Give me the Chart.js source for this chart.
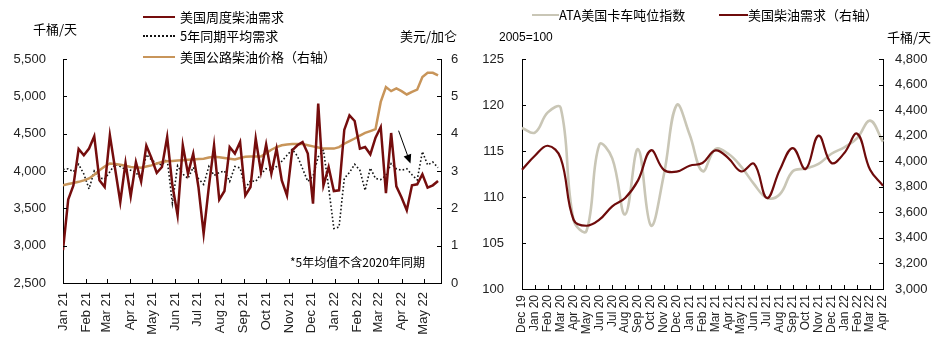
<!DOCTYPE html>
<html><head><meta charset="utf-8">
<script src="https://cdn.jsdelivr.net/npm/chart.js@4.4.1/dist/chart.umd.min.js"></script>
<style>
body{margin:0;background:#fff;width:945px;height:350px;overflow:hidden;position:relative;}
.box{position:absolute;top:0;}
canvas{display:block;}
.t{position:absolute;font-family:"Noto Sans CJK SC","Liberation Sans",sans-serif;font-size:13px;color:#000;white-space:nowrap;line-height:14px;height:14px;}
.n{font-family:"Liberation Sans",Arial,sans-serif;font-size:12px;}
.ln{position:absolute;height:0;}
</style></head>
<body>
<div class="box" style="left:0;width:470px;height:350px"><canvas id="c1" width="470" height="350"></canvas></div>
<div class="box" style="left:470px;width:475px;height:350px"><canvas id="c2" width="475" height="350"></canvas></div>

<!-- left legend & titles -->
<div class="ln" style="left:143px;top:16px;width:32px;border-top:2.5px solid #750d0d"></div>
<div class="t" style="left:180px;top:10px">美国周度柴油需求</div>
<div class="ln" style="left:143px;top:35px;width:32px;border-top:2px dotted #111"></div>
<div class="t" style="left:180px;top:29px">5年同期平均需求</div>
<div class="ln" style="left:143px;top:56px;width:32px;border-top:2.5px solid #c8955a"></div>
<div class="t" style="left:180px;top:50px">美国公路柴油价格（右轴）</div>
<div class="t" style="left:33px;top:22px">千桶/天</div>
<div class="t" style="left:400px;top:29px">美元/加仑</div>
<div class="t" style="left:290px;top:255px;font-size:12px">*5年均值不含2020年同期</div>

<!-- right legend & titles -->
<div class="ln" style="left:532px;top:14px;width:27px;border-top:2.5px solid #c9c6b6"></div>
<div class="t" style="left:559px;top:8px">ATA美国卡车吨位指数</div>
<div class="ln" style="left:719px;top:14px;width:29px;border-top:2.5px solid #6e0b0b"></div>
<div class="t" style="left:748px;top:8px">美国柴油需求（右轴）</div>
<div class="t n" style="left:499px;top:30px">2005=100</div>
<div class="t" style="left:887px;top:30px">千桶/天</div>

<script>
// ---------- Left chart data (weekly, starting 2021-01-01) ----------
const weekStart = '2021-01-01';
const dieselDemandWeekly = [2940,3617,3808,4295,4210,4300,4465,3875,3786,4478,
  4030,3585,4107,3661,4120,3860,4340,4170,3975,4053,
  4455,3808,3407,4344,3965,4233,3786,3161,3786,4344,
  3617,3732,4321,4233,4388,3674,3786,4433,3987,4357,
  3965,4300,3875,3674,4277,4344,4388,4233,3563,4903,
  3808,4053,3732,3741,4550,4746,4670,4300,4321,4223,
  4447,4589,3705,4509,3795,3644,3474,3808,3822,3956,
  3777,3808,3866];
const fiveYearAvg = [4020,4030,3990,4090,3960,3760,4000,3910,3890,3990,
  4090,4060,4020,4010,3980,3890,4220,4150,4100,4080,
  4160,3570,4070,3960,3900,4050,3900,3820,4060,3940,
  3980,4000,3860,4060,4040,3770,3870,3860,3960,4030,
  4010,4060,4130,4210,4290,4200,4030,3860,3930,4190,
  4280,3780,3230,3250,3900,3980,4090,4010,3740,4040,
  3900,3885,3940,4100,4030,4010,4030,3950,3880,4260,
  4080,4120,4045];
const dieselPrice = [2.62,2.65,2.68,2.71,2.75,2.80,2.90,3.02,3.12,3.20,
  3.19,3.17,3.14,3.11,3.10,3.09,3.12,3.15,3.20,3.24,
  3.26,3.27,3.28,3.29,3.30,3.31,3.32,3.33,3.36,3.38,
  3.37,3.35,3.33,3.31,3.35,3.38,3.39,3.39,3.39,3.48,
  3.57,3.64,3.69,3.71,3.72,3.72,3.72,3.69,3.66,3.63,
  3.60,3.60,3.60,3.64,3.73,3.80,3.87,3.95,4.02,4.07,
  4.12,4.85,5.25,5.14,5.21,5.14,5.05,5.12,5.18,5.52,
  5.63,5.63,5.56];
const monthTickLabels = ['Jan 21','Feb 21','Mar 21','Apr 21','May 21','Jun 21','Jul 21','Aug 21','Sep 21','Oct 21','Nov 21','Dec 21','Jan 22','Feb 22','Mar 22','Apr 22','May 22'];
const monthTickDates = ['2021-01-01','2021-02-01','2021-03-01','2021-04-01','2021-05-01','2021-06-01','2021-07-01','2021-08-01','2021-09-01','2021-10-01','2021-11-01','2021-12-01','2022-01-01','2022-02-01','2022-03-01','2022-04-01','2022-05-01'];
const leftYTicks = [2500,3000,3500,4000,4500,5000,5500];
const leftY1Ticks = [0,1,2,3,4,5,6];

// ---------- Right chart data (monthly) ----------
const monthLabels = ['Dec 19','Jan 20','Feb 20','Mar 20','Apr 20','May 20','Jun 20','Jul 20','Aug 20','Sep 20','Oct 20','Nov 20','Dec 20','Jan 21','Feb 21','Mar 21','Apr 21','May 21','Jun 21','Jul 21','Aug 21','Sep 21','Oct 21','Nov 21','Dec 21','Jan 22','Feb 22','Mar 22','Apr 22'];
const ataTonnage = [117.5,117.0,119.2,119.7,107.5,106.3,115.7,114.2,108.1,115.2,
  106.9,112.4,120.0,116.8,112.8,115.2,114.7,113.3,111.4,109.9,
  110.3,112.8,113.1,113.6,114.7,115.4,116.4,118.3,116.0];
const dieselDemandMonthly = [3933,4043,4121,4025,3542,3495,3542,3647,3712,3850,
  4085,3933,3918,3965,3986,4085,4025,3920,3980,3712,
  3933,4103,3939,4200,3986,4064,4215,3933,3808];
const rightYTicks = [100,105,110,115,120,125];
const rightY1Ticks = [3000,3200,3400,3600,3800,4000,4200,4400,4600,4800];

// ---------- helpers ----------
const DAY = 86400000;
const base = Date.parse(weekStart);
const dayOf = s => Math.round((Date.parse(s) - base) / DAY);
const weekDays = dieselDemandWeekly.map((_, i) => i * 7);
const monthDays = monthTickDates.map(dayOf);
const fmt = v => Number(v).toLocaleString('en-US');
const tickFont = {family: '"Liberation Sans", Arial, sans-serif', size: 13};
const smallFont = {family: '"Liberation Sans", Arial, sans-serif', size: 12};
const tickColor = '#222';

const innerTicks = {
  id: 'innerTicks',
  afterDraw(chart) {
    const {ctx, chartArea: a} = chart;
    ctx.save();
    ctx.strokeStyle = '#000';
    ctx.lineWidth = 1;
    Object.values(chart.scales).forEach(s => {
      s.ticks.forEach((t, i) => {
        const p = Math.round(s.getPixelForTick(i)) + 0.5;
        ctx.beginPath();
        if (s.axis === 'x') { ctx.moveTo(p, a.bottom); ctx.lineTo(p, a.bottom - 4); }
        else if (s.position === 'left') { ctx.moveTo(a.left, p); ctx.lineTo(a.left + 4, p); }
        else { ctx.moveTo(a.right, p); ctx.lineTo(a.right - 4, p); }
        ctx.stroke();
      });
    });
    ctx.restore();
  }
};

const arrowNote = {
  id: 'arrowNote',
  afterDatasetsDraw(chart) {
    const {ctx, scales: {x, y}} = chart;
    const x0 = x.getPixelForValue(dayOf('2022-03-28')), y0 = y.getPixelForValue(4540);
    const x1 = x.getPixelForValue(dayOf('2022-04-13')), y1 = y.getPixelForValue(4100);
    const ang = Math.atan2(y1 - y0, x1 - x0);
    ctx.save();
    ctx.strokeStyle = '#000'; ctx.fillStyle = '#000'; ctx.lineWidth = 1;
    ctx.beginPath(); ctx.moveTo(x0, y0); ctx.lineTo(x1 - 6 * Math.cos(ang), y1 - 6 * Math.sin(ang)); ctx.stroke();
    ctx.beginPath();
    ctx.moveTo(x1, y1);
    ctx.lineTo(x1 - 9 * Math.cos(ang) + 4 * Math.sin(ang), y1 - 9 * Math.sin(ang) - 4 * Math.cos(ang));
    ctx.lineTo(x1 - 9 * Math.cos(ang) - 4 * Math.sin(ang), y1 - 9 * Math.sin(ang) + 4 * Math.cos(ang));
    ctx.closePath(); ctx.fill();
    ctx.restore();
  }
};

const axisCommon = (extra) => Object.assign({
  grid: {display: true, drawOnChartArea: false, drawTicks: false},
  border: {display: true, color: '#000', width: 1},
}, extra);

// ---------- Left chart ----------
new Chart(document.getElementById('c1'), {
  type: 'line',
  data: {
    datasets: [
      {label: '美国周度柴油需求', data: dieselDemandWeekly.map((v, i) => ({x: weekDays[i], y: v})),
        borderColor: '#750d0d', borderWidth: 2.5, pointRadius: 0, yAxisID: 'y', order: 0, tension: 0},
      {label: '5年同期平均需求', data: fiveYearAvg.map((v, i) => ({x: weekDays[i], y: v})),
        borderColor: '#111', borderWidth: 1.6, borderDash: [1.6, 2.2], pointRadius: 0, yAxisID: 'y', order: 2, tension: 0},
      {label: '美国公路柴油价格（右轴）', data: dieselPrice.map((v, i) => ({x: weekDays[i], y: v})),
        borderColor: '#c8955a', borderWidth: 2.5, pointRadius: 0, yAxisID: 'y1', order: 1, tension: 0}
    ]
  },
  options: {
    responsive: false, animation: false, devicePixelRatio: 1,
    layout: {padding: {top: 59, left: 0, right: 0, bottom: 0}},
    plugins: {legend: {display: false}, tooltip: {enabled: false}},
    scales: {
      x: axisCommon({type: 'linear', position: 'bottom', min: 0, max: 508,
        afterBuildTicks: s => { s.ticks = monthDays.map(v => ({value: v})); },
        afterFit: s => { s.height = 67; },
        ticks: {autoSkip: false, minRotation: 90, maxRotation: 90, padding: 9, font: tickFont, color: tickColor,
          callback: v => { const k = monthDays.indexOf(v); return k >= 0 ? monthTickLabels[k] : ''; }}}),
      y: axisCommon({position: 'left', min: 2500, max: 5500,
        afterBuildTicks: s => { s.ticks = leftYTicks.map(v => ({value: v})); },
        afterFit: s => { s.width = 63; },
        ticks: {padding: 17, font: tickFont, color: tickColor, callback: v => fmt(v)}}),
      y1: axisCommon({position: 'right', min: 0, max: 6,
        afterBuildTicks: s => { s.ticks = leftY1Ticks.map(v => ({value: v})); },
        afterFit: s => { s.width = 29; },
        ticks: {padding: 10, font: tickFont, color: tickColor, callback: v => fmt(v)}})
    }
  },
  plugins: [innerTicks, arrowNote]
});

// ---------- Right chart ----------
new Chart(document.getElementById('c2'), {
  type: 'line',
  data: {
    labels: monthLabels,
    datasets: [
      {label: '美国柴油需求（右轴）', data: dieselDemandMonthly, borderColor: '#6e0b0b', borderWidth: 2.2,
        pointRadius: 0, yAxisID: 'y1', tension: 0.4, order: 0},
      {label: 'ATA美国卡车吨位指数', data: ataTonnage, borderColor: '#c9c6b6', borderWidth: 2.6,
        pointRadius: 0, yAxisID: 'y', tension: 0.4, order: 1}
    ]
  },
  options: {
    responsive: false, animation: false, devicePixelRatio: 1,
    layout: {padding: {top: 59, left: 0, right: 0, bottom: 0}},
    plugins: {legend: {display: false}, tooltip: {enabled: false}},
    scales: {
      x: axisCommon({type: 'category', offset: false,
        afterFit: s => { s.height = 61; },
        ticks: {autoSkip: false, minRotation: 90, maxRotation: 90, padding: 6, font: smallFont, color: tickColor}}),
      y: axisCommon({position: 'left', min: 100, max: 125,
        afterBuildTicks: s => { s.ticks = rightYTicks.map(v => ({value: v})); },
        afterFit: s => { s.width = 52; },
        ticks: {padding: 18, font: tickFont, color: tickColor, callback: v => fmt(v)}}),
      y1: axisCommon({position: 'right', min: 3000, max: 4800,
        afterBuildTicks: s => { s.ticks = rightY1Ticks.map(v => ({value: v})); },
        afterFit: s => { s.width = 62; },
        ticks: {padding: 12, font: tickFont, color: tickColor, callback: v => fmt(v)}})
    }
  },
  plugins: [innerTicks]
});
</script>
</body></html>
